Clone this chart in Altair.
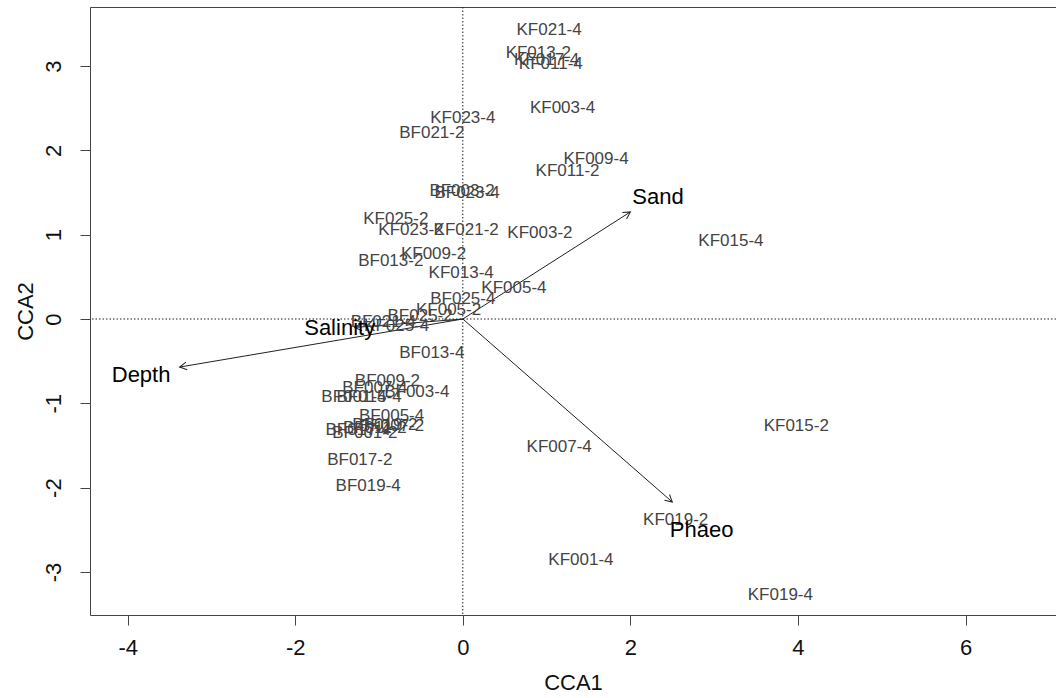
import math
import altair as alt
import pandas as pd

# ---- data ----
site_labels = ["KF021-4", "KF013-2", "KF017-4", "KF011-4", "KF003-4", "KF023-4", "BF021-2",
               "KF009-4", "KF011-2", "BF003-2", "BF023-4", "KF015-4", "KF025-2", "KF023-2",
               "KF021-2", "KF003-2", "BF013-2", "KF009-2", "KF013-4", "KF005-4", "BF025-4",
               "KF005-2", "BF025-2", "KF025-4", "BF021-4", "BF013-4", "BF009-2", "BF007-4",
               "BF003-4", "BF015-4", "BF001-4", "BF005-4", "BF017-4", "BF011-2", "BF019-2",
               "BF001-2", "BF007-2", "BF017-2", "BF019-4", "KF007-4", "KF015-2", "KF019-2",
               "KF001-4", "KF019-4"]
site_x = [1.03, 0.90, 1.00, 1.05, 1.19, 0.00, -0.37,
          1.59, 1.25, -0.01, 0.05, 3.20, -0.80, -0.62,
          0.04, 0.92, -0.86, -0.35, -0.02, 0.61, 0.00,
          -0.17, -0.51, -0.79, -0.95, -0.37, -0.90, -1.05,
          -0.55, -1.12, -1.30, -0.85, -1.25, -1.05, -0.93,
          -1.17, -0.85, -1.23, -1.13, 1.15, 3.98, 2.54,
          1.41, 3.79]
site_y = [3.43, 3.15, 3.07, 3.02, 2.50, 2.38, 2.21,
          1.90, 1.76, 1.52, 1.49, 0.92, 1.19, 1.06,
          1.06, 1.02, 0.69, 0.77, 0.55, 0.37, 0.24,
          0.11, 0.04, -0.08, -0.03, -0.40, -0.74, -0.82,
          -0.86, -0.93, -0.93, -1.15, -1.32, -1.29, -1.26,
          -1.35, -1.27, -1.67, -1.98, -1.52, -1.27, -2.38,
          -2.86, -3.27]

env_labels = ["Depth", "Salinity", "Sand", "Phaeo"]
env_x = [-3.38, -1.29, 2.00, 2.50]
env_y = [-0.57, -0.10, 1.27, -2.17]
env_label_x = [-3.84, -1.47, 2.33, 2.85]
env_label_y = [-0.66, -0.11, 1.45, -2.50]

x_ticks = [-4, -2, 0, 2, 4, 6]
y_ticks = [-3, -2, -1, 0, 1, 2, 3]
x_domain = [-4.45, 7.08]
y_domain = [-3.51, 3.70]

FONT = "Liberation Sans"

sites = pd.DataFrame({"label": site_labels, "x": site_x, "y": site_y})
env = pd.DataFrame({
    "label": env_labels, "ex": env_x, "ey": env_y,
    "lx": env_label_x, "ly": env_label_y,
    "ox": [0.0] * len(env_labels), "oy": [0.0] * len(env_labels),
})
env["ang"] = [(math.degrees(math.atan2(a, b)) + 360) % 360 for a, b in zip(env["ex"], env["ey"])]
origin = pd.DataFrame({"v": [0.0]})

xs = alt.Scale(domain=x_domain, nice=False, zero=False)
ys = alt.Scale(domain=y_domain, nice=False, zero=False)

x_axis = alt.Axis(values=x_ticks, tickSize=10, tickColor="#444", domainColor="#444",
                  labelFont=FONT, labelFontSize=22, labelColor="#111", labelPadding=12,
                  labelExpr="datum.value",
                  title="CCA1", titleFont=FONT, titleFontSize=22, titleFontWeight="normal",
                  titleColor="#111", titlePadding=14, grid=False)
y_axis = alt.Axis(values=y_ticks, tickSize=10, tickColor="#444", domainColor="#444",
                  labelFont=FONT, labelFontSize=22, labelColor="#111", labelPadding=15,
                  labelAngle=270, labelAlign="center", labelBaseline="bottom",
                  labelExpr="datum.value",
                  title="CCA2", titleFont=FONT, titleFontSize=22, titleFontWeight="normal",
                  titleColor="#111", titlePadding=5, grid=False)
top_axis = alt.Axis(orient="top", labels=False, ticks=False, domainColor="#444",
                    title=None, grid=False)

vline = alt.Chart(origin).mark_rule(color="#222", strokeDash=[1.5, 2], strokeWidth=1).encode(
    x=alt.X("v:Q", scale=xs, axis=top_axis))
hline = alt.Chart(origin).mark_rule(color="#222", strokeDash=[1.5, 2], strokeWidth=1).encode(
    y=alt.Y("v:Q", scale=ys, axis=y_axis))

arrows = alt.Chart(env).mark_rule(color="#222", strokeWidth=1).encode(
    x=alt.X("ox:Q", scale=xs, axis=None), y=alt.Y("oy:Q", scale=ys, axis=y_axis),
    x2="ex:Q", y2="ey:Q")
heads = alt.Chart(env).mark_point(shape="M-0.55,1L0,0L0.55,1", filled=False, size=196,
                                  strokeWidth=1, color="#222", opacity=1).encode(
    x=alt.X("ex:Q", scale=xs, axis=None), y=alt.Y("ey:Q", scale=ys, axis=y_axis),
    angle=alt.Angle("ang:Q", scale=None))

site_text = alt.Chart(sites).mark_text(font=FONT, fontSize=17, color="#444",
                                       align="center", baseline="middle").encode(
    x=alt.X("x:Q", scale=xs, axis=x_axis), y=alt.Y("y:Q", scale=ys, axis=y_axis),
    text="label:N")
env_text = alt.Chart(env).mark_text(font=FONT, fontSize=22, color="#000",
                                    align="center", baseline="middle").encode(
    x=alt.X("lx:Q", scale=xs, axis=None), y=alt.Y("ly:Q", scale=ys, axis=y_axis),
    text="label:N")

chart = alt.layer(vline, hline, arrows, heads, site_text, env_text).resolve_axis(
    x="independent", y="shared").properties(
    width=966, height=608,
    padding={"left": 90, "top": 7, "right": 0, "bottom": 83},
    autosize="none",
).configure_view(stroke=None).configure(background="white")

chart.save("out.html", embed_options={"renderer": "svg", "actions": False})
